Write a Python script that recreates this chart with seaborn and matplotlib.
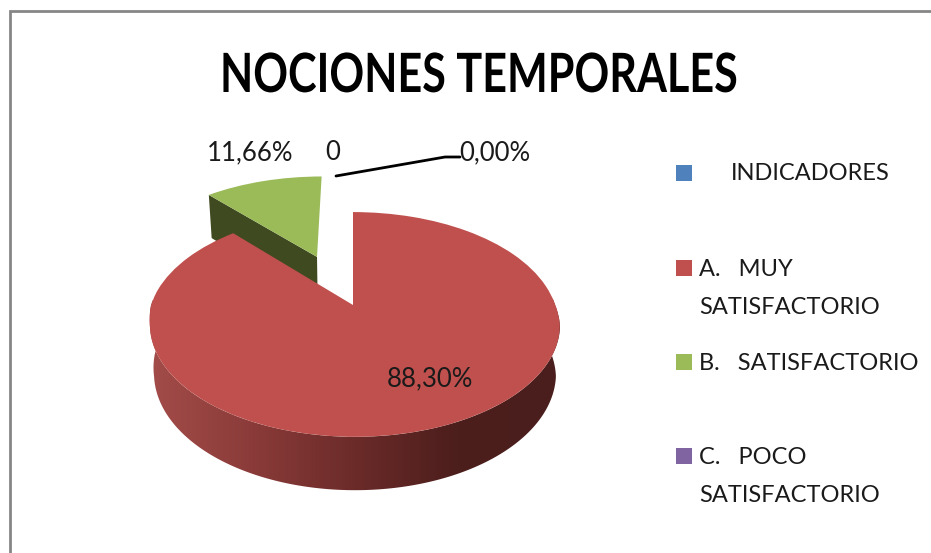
import matplotlib
matplotlib.use("Agg")
import matplotlib.pyplot as plt
import seaborn as sns
import numpy as np
from matplotlib.colors import LinearSegmentedColormap
from matplotlib.patches import Polygon
from matplotlib.patheffects import AbstractPathEffect
from matplotlib.transforms import Affine2D, Transform

# Values
categories = ["INDICADORES", "A.   MUY\nSATISFACTORIO", "B.   SATISFACTORIO", "C.   POCO\nSATISFACTORIO"]
values = [0, 88.30, 11.66, 0]
pct_labels = ["0,00%", "88,30%", "11,66%", "0,00%"]
cat_label = "0"
title = "NOCIONES TEMPORALES"

colors = ["#4f81bd", "#c0504d", "#9bbb59", "#8064a2"]

sns.set_theme(style="white")
plt.rcParams['font.family'] = ['Lato', 'DejaVu Sans']

# Perspective of the tilted pie, unit circle to pixels
APEX_X, APEX_Y = 353, 305
SX, SY, PERSP = 202, 109, 0.173
DEPTH = 48
GREEN_SHIFT = (-2.5, -1)


def project(u, v, z=0.0, shift=(0, 0)):
    w = 1 + PERSP * v
    x = APEX_X + SX * u / w * (1 - 0.02 * z) + 2 * np.clip(-v / 0.2, 0, 1)
    y = APEX_Y - SY * v / w + z * DEPTH / w ** 0.56
    return x + shift[0], y + shift[1]


class Tilt(Transform):
    input_dims = 2
    output_dims = 2

    def __init__(self, shift=(0, 0)):
        super().__init__()
        self.shift = shift

    def transform_non_affine(self, xy):
        x, y = project(xy[:, 0], xy[:, 1], shift=self.shift)
        return np.column_stack([x, y])


# The title font is narrower than anything installed
class Squeeze(AbstractPathEffect):
    def __init__(self, sx):
        super().__init__()
        self.sx = sx

    def draw_path(self, renderer, gc, tpath, affine, rgbFace=None):
        renderer.draw_path(gc, tpath, Affine2D().scale(self.sx, 1) + affine, rgbFace)


fig = plt.figure(figsize=(9.31, 5.53), dpi=100)
ax = fig.add_axes([0, 0, 1, 1])

wedges, _ = ax.pie(values, colors=colors, startangle=90, counterclock=False,
                   explode=[0, 0, 0.5, 0], wedgeprops=dict(linewidth=0))
red, green = wedges[1], wedges[2]
for w in wedges:
    w.set_transform(Tilt() + ax.transData)
green.set_transform(Tilt(GREEN_SHIFT) + ax.transData)
red.set_zorder(5)
green.set_zorder(3)

# Green cut face
a = np.deg2rad(green.theta2)
cx, cy = green.center
rim = (cx + np.cos(a), cy + np.sin(a))
face = [project(cx, cy, 0, GREEN_SHIFT), project(*rim, 0, GREEN_SHIFT),
        project(*rim, 1, GREEN_SHIFT), project(cx, cy, 1, GREEN_SHIFT)]
ax.add_patch(Polygon(face, closed=True, facecolor="#3f4a21", edgecolor="none", zorder=2))

# Red outer wall with a horizontal shade
t = np.deg2rad(np.linspace(red.theta1, red.theta2, 300))
t = t[np.sin(t) < 0.1]
top = np.column_stack(project(np.cos(t), np.sin(t)))
bottom = np.column_stack(project(np.cos(t), np.sin(t), 1))
wall = Polygon(np.vstack([top, bottom[::-1]]), closed=True, transform=ax.transData)
shade = LinearSegmentedColormap.from_list("wall", ["#a34c49", "#8a3b39", "#6b2b29", "#4c1e1c", "#4a1f1d"])
im = ax.imshow(np.linspace(0, 1, 256)[None, :], extent=(150, 560, 500, 300), aspect="auto",
               cmap=shade, zorder=4, interpolation="bilinear")
im.set_clip_path(wall)

ax.set_aspect("auto")
ax.set_axis_off()

# Chart frame
ax.plot([9.5, 9.5, 931], [553, 10.5, 10.5], color="#868686", lw=2, solid_joinstyle="miter", zorder=1)

ax.text(220, 92, title, ha="left", va="baseline", fontsize=39, fontweight="bold", color="black",
        path_effects=[Squeeze(0.796)])

# Data labels
lab = dict(fontsize=18.5, va="center", color="#1a1a1a", zorder=6)
ax.text(250, 152.5, pct_labels[2], ha="center", **lab)
ax.text(333, 152.5, cat_label, ha="center", **lab)
ax.text(495, 152.5, pct_labels[0], ha="center", **lab)
ax.text(430, 378.5, pct_labels[1], ha="center", **lab)
ax.plot([336, 445, 460], [176, 157, 157], color="black", lw=2, zorder=6)

# Legend
legend_y = [173, 268, 362, 456]
sns.scatterplot(x=[684] * 4, y=legend_y, hue=categories, palette=colors, marker="s", s=125,
                linewidth=0, legend=False, ax=ax, zorder=6)
leg = dict(fontsize=17, va="center", color="#1a1a1a", zorder=6)
ax.text(731, legend_y[0] + 1, categories[0], ha="left", **leg)
for cat, y in zip(categories[1:], legend_y[1:]):
    for i, line in enumerate(cat.split("\n")):
        ax.text(699, y + 1 + i * 38, line, ha="left", **leg)

ax.set_xlim(0, 931)
ax.set_ylim(553, 0)
fig.savefig("out.png", dpi=100, facecolor="white")
